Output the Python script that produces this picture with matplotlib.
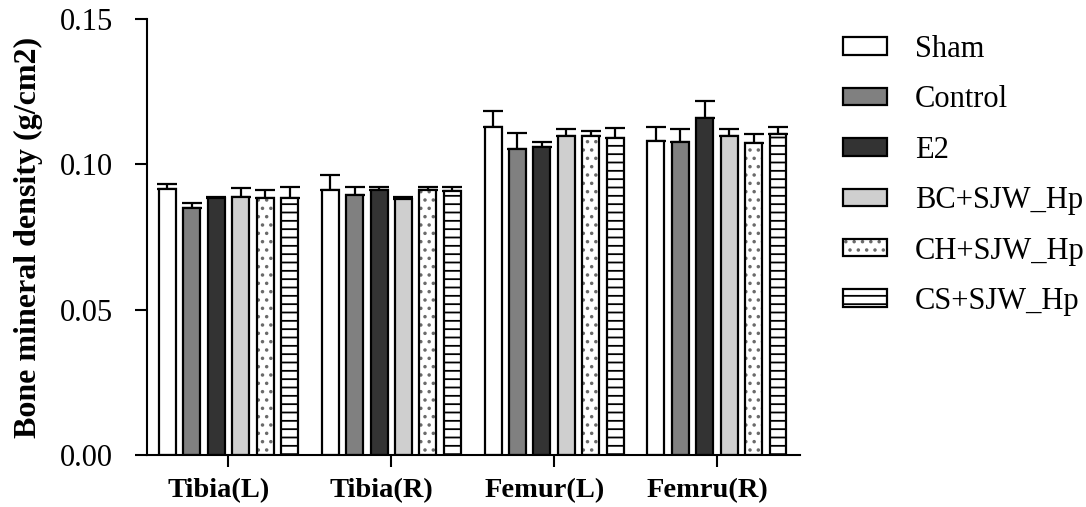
import matplotlib
matplotlib.use('Agg')

import matplotlib.pyplot as plt
import numpy as np

plt.rcParams['font.family'] = ['Liberation Serif', 'DejaVu Serif']
plt.rcParams['hatch.linewidth'] = 1.3

# bone sites on the x axis
sites = ['Tibia(L)', 'Tibia(R)', 'Femur(L)', 'Femru(R)']

# group names
groups = ['Sham', 'Control', 'E2', 'BC+SJW_Hp', 'CH+SJW_Hp', 'CS+SJW_Hp']

# mean BMD per site (g/cm2)
sham = [0.0914, 0.0910, 0.1129, 0.1082]
control = [0.0851, 0.0893, 0.1053, 0.1077]
e2 = [0.0883, 0.0911, 0.1061, 0.1158]
bc = [0.0889, 0.0882, 0.1099, 0.1096]
ch = [0.0885, 0.0910, 0.1096, 0.1075]
cs = [0.0885, 0.0907, 0.1091, 0.1103]

# SEM per site
sham_err = [0.0020, 0.0053, 0.0055, 0.0047]
control_err = [0.0017, 0.0030, 0.0056, 0.0044]
e2_err = [0.0006, 0.0012, 0.0017, 0.0059]
bc_err = [0.0029, 0.0007, 0.0022, 0.0025]
ch_err = [0.0025, 0.0013, 0.0017, 0.0029]
cs_err = [0.0037, 0.0015, 0.0034, 0.0026]

means = [sham, control, e2, bc, ch, cs]
errs = [sham_err, control_err, e2_err, bc_err, ch_err, cs_err]
fills = ['white', '#808080', '#333333', '#cfcfcf', 'white', 'white']
hatches = [None, None, None, None, '..', '--']
# dots are printed in a softer grey than the outlines
hatch_colors = ['black', 'black', 'black', 'black', '#6a6a6a', 'black']

fig = plt.figure(figsize=(10.86, 5.07), dpi=100)
ax = fig.add_axes([0.1354, 0.1026, 0.6012, 0.8599])

x = np.arange(len(sites))
step = 0.15
width = 0.104

handles = []
for i in range(len(groups)):
    pos = x + (i - 2.5) * step
    # fill + hatch layer, then the black outline on top
    fill = ax.bar(pos, means[i], width, color=fills[i],
                  edgecolor=hatch_colors[i], linewidth=0,
                  hatch=hatches[i], zorder=2)
    edge = ax.bar(pos, means[i], width, fill=False, edgecolor='black',
                  linewidth=1.6, zorder=3)
    handles.append((fill, edge))
    ax.errorbar(pos, means[i], yerr=[np.zeros(len(sites)), errs[i]],
                fmt='none', ecolor='black', elinewidth=1.6, capsize=7.5,
                capthick=1.6, zorder=1)

ax.set_xlim(-0.5, 3.51)
ax.set_ylim(0, 0.15)
ax.set_yticks([0.00, 0.05, 0.10, 0.15])
ax.set_yticklabels(['0.00', '0.05', '0.10', '0.15'])

# tick marks on the group centres, names sit slightly to the left
ax.set_xticks(x)
ax.set_xticklabels([])
ax.set_xticks(x - 0.06, minor=True)
ax.set_xticklabels(sites, minor=True, fontweight='bold')

ax.spines['top'].set_visible(False)
ax.spines['right'].set_visible(False)
ax.spines['left'].set_linewidth(1.5)
ax.spines['bottom'].set_linewidth(1.5)
ax.tick_params(axis='both', direction='out', length=8.5, width=1.5)
ax.tick_params(axis='y', labelsize=22, pad=16)
ax.tick_params(axis='x', which='minor', length=0, labelsize=20.5, pad=17)

ax.set_ylabel('Bone mineral density (g/cm2)', fontsize=23,
              fontweight='bold', labelpad=12)

ax.legend(handles, groups, loc='upper left', bbox_to_anchor=(0.765, 0.955),
          bbox_transform=fig.transFigure, frameon=False, fontsize=22,
          handlelength=1.45, handleheight=0.5, handletextpad=0.9,
          labelspacing=0.7, borderaxespad=0)

fig.savefig('out.png', dpi=100)
